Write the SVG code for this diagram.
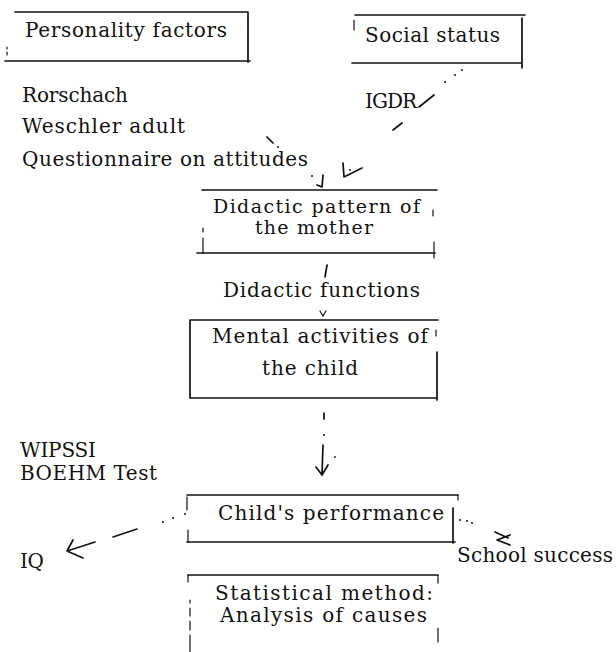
<svg xmlns="http://www.w3.org/2000/svg" width="616" height="652" viewBox="0 0 616 652">
<style>
.ln{stroke:#111;stroke-width:1.7;fill:none;stroke-linecap:round;stroke-linejoin:round}
.th{stroke:#111;stroke-width:1.2;fill:none;stroke-linecap:round}
.t{font-family:"DejaVu Serif","Liberation Serif",serif;font-size:20px;fill:#111}
.t2{font-family:"DejaVu Serif","Liberation Serif",serif;font-size:19px;fill:#111}
.dot{fill:#111}
</style>
<rect width="616" height="652" fill="#fff"/>

<g id="personality">
<path class="ln" d="M15 12H248M248 12V62M5 61H250"/>
<path class="th" d="M7 47V49M7 52V55"/>
<text class="t" x="25" y="37" textLength="202" lengthAdjust="spacing">Personality factors</text>
</g>

<g id="social">
<path class="ln" d="M355 15H525M522 18V68M352 63H522"/>
<path class="th" d="M354 20V30"/>
<text class="t" x="365" y="42" textLength="135" lengthAdjust="spacing">Social status</text>
</g>

<g id="personality-measures">
<text class="t" x="22" y="102" textLength="106" lengthAdjust="spacing">Rorschach</text>
<text class="t" x="22" y="133" textLength="163" lengthAdjust="spacing">Weschler adult</text>
<text class="t" x="22" y="166" textLength="286" lengthAdjust="spacing">Questionnaire on attitudes</text>
</g>

<g id="social-measure">
<text class="t" x="365" y="108" textLength="52" lengthAdjust="spacing">IGDR</text>
</g>

<g id="didactic-pattern">
<path class="ln" d="M202 190H437M197 253H435"/>
<path class="th" d="M203 228V232M203 238V253M433 210V216M434 242V258"/>
<text class="t2" x="213" y="213" textLength="207" lengthAdjust="spacing">Didactic pattern of</text>
<text class="t2" x="255" y="234" textLength="118" lengthAdjust="spacing">the mother</text>
</g>

<g id="didactic-functions">
<text class="t" x="223" y="297" textLength="197" lengthAdjust="spacing">Didactic functions</text>
</g>

<g id="mental-activities">
<path class="ln" d="M190 320H438M190 320V398M437 352V400M190 398H437"/>
<path class="th" d="M436 330V336"/>
<text class="t" x="212" y="343" textLength="216" lengthAdjust="spacing">Mental activities of</text>
<text class="t" x="262" y="375" textLength="96" lengthAdjust="spacing">the child</text>
</g>

<g id="child-measures">
<text class="t" x="20" y="457" textLength="76" lengthAdjust="spacing">WIPSSI</text>
<text class="t" x="20" y="480" textLength="137" lengthAdjust="spacing">BOEHM Test</text>
</g>

<g id="child-performance">
<path class="ln" d="M187 495H458M187 542H455M453 508V543"/>
<path class="th" d="M187 497V510M188 530V542M458 495V500"/>
<text class="t" x="218" y="520" textLength="226" lengthAdjust="spacing">Child's performance</text>
</g>

<g id="iq">
<text class="t" x="20" y="568" textLength="24" lengthAdjust="spacing">IQ</text>
</g>

<g id="school-success">
<text class="t" x="457" y="562" textLength="156" lengthAdjust="spacing">School success</text>
</g>

<g id="statistical-method">
<path class="ln" d="M188 575H438"/>
<path class="th" d="M188 575V582M438 575V583M438 628V642"/>
<path class="th" d="M190 600V603M190 608V616M190 621V630M190 635V652"/>
<text class="t" x="215" y="600" textLength="218" lengthAdjust="spacing">Statistical method:</text>
<text class="t" x="220" y="622" textLength="207" lengthAdjust="spacing">Analysis of causes</text>
</g>

<g id="connectors">
<!-- personality -> didactic pattern -->
<path class="ln" d="M267 137L273 143"/>
<circle class="dot" cx="278" cy="147" r="1"/>
<circle class="dot" cx="312" cy="176" r="1"/>
<path class="ln" d="M323 175L322 187L317 185"/>
<!-- social -> didactic pattern -->
<circle class="dot" cx="462" cy="70" r="1"/>
<circle class="dot" cx="455" cy="75" r="1"/>
<circle class="dot" cx="445" cy="82" r="1"/>
<path class="ln" d="M419 107L434 95"/>
<path class="ln" d="M393 130L402 123"/>
<path class="ln" d="M343 163L344 177L362 168"/>
<circle class="dot" cx="350" cy="170" r="1"/>
<!-- didactic pattern -> mental activities -->
<path class="ln" d="M327 265L325 277"/>
<path class="th" d="M320 311L323 316L326 311"/>
<!-- mental activities -> child's performance -->
<path class="ln" d="M324 413V419"/>
<circle class="dot" cx="324" cy="435" r="1"/>
<path class="ln" d="M323 445L322 475M316 467L322 475L328 465"/>
<circle class="dot" cx="335" cy="457" r="0.9"/>
<!-- child's performance -> IQ -->
<circle class="dot" cx="185" cy="514" r="1"/>
<circle class="dot" cx="173" cy="518" r="1"/>
<circle class="dot" cx="163" cy="522" r="1"/>
<path class="ln" d="M113 537L137 529"/>
<path class="ln" d="M73 540L67 551L83 558M67 551L95 542"/>
<!-- child's performance -> school success -->
<circle class="dot" cx="460" cy="520" r="1"/>
<circle class="dot" cx="467" cy="521" r="1"/>
<circle class="dot" cx="472" cy="523" r="1"/>
<path class="ln" d="M495 532L508 538M510 535L497 540L510 545"/>
</g>
</svg>
